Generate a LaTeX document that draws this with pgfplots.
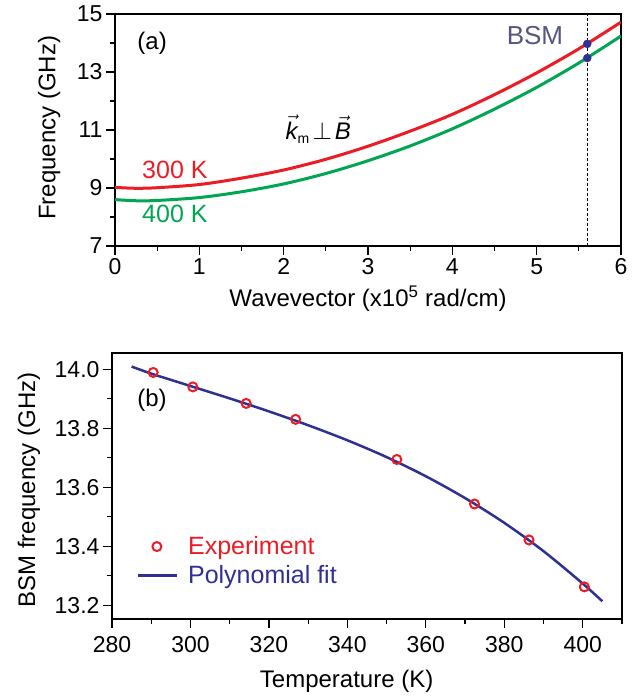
\documentclass[border=0pt]{standalone}
\usepackage{fontspec}
\setmainfont{Liberation Sans}
\usepackage{pgfplots}
\pgfplotsset{compat=1.18}
\definecolor{cRed}{HTML}{ED1C24}
\definecolor{cGreen}{HTML}{00A651}
\definecolor{cNavy}{HTML}{2E3192}
\definecolor{cBSM}{HTML}{55557F}

\pgfplotsset{
  panel/.style={
    scale only axis,
    axis line style={line width=1.5pt},
    tick style={line width=1.2pt, black},
    tick align=outside,
    xtick pos=bottom, ytick pos=left,
    major tick length=9pt, minor tick length=5pt,
    tick label style={font=\fontsize{23}{27}\selectfont},
    label style={font=\fontsize{24}{28}\selectfont},
    /pgf/number format/assume math mode=true,
  },
  legmark/.style={legend image code/.code={\draw[##1, draw=none, mark repeat=2, mark phase=2]
    plot coordinates {(0pt,0pt) (19pt,0pt) (38pt,0pt)};}},
  legline/.style={legend image code/.code={\fill[cNavy] (0pt,-1.3pt) rectangle (38pt,1.3pt);}},
}

\begin{document}
\begin{tikzpicture}
\useasboundingbox (-115pt,-452pt) rectangle (526pt,246pt);

% (a) dispersion
\begin{axis}[panel,
  at={(0pt,0pt)}, anchor=south west,
  width=506pt, height=232pt,
  xmin=0, xmax=6, ymin=7, ymax=15,
  xtick={0,1,2,3,4,5,6}, minor xtick={0.5,1.5,2.5,3.5,4.5,5.5},
  ytick={7,9,11,13,15}, minor ytick={8,10,12,14},
  xlabel={Wavevector (x10\textsuperscript{5} rad/cm)},
  ylabel={Frequency (GHz)},
  xlabel style={at={(axis description cs:0.5,-0.228)}, anchor=center},
  ylabel style={at={(axis description cs:-0.13,0.51)}, anchor=center},
]
\addplot[black, line width=1pt, densely dashed] coordinates {(5.6,7) (5.6,15)};
\addplot[cRed, line width=3pt, smooth] coordinates {
  (0,9.02) (0.25,8.99) (0.5,9.01) (1,9.12) (1.5,9.34) (2,9.62) (2.5,9.99)
  (3,10.44) (3.5,10.96) (4,11.54) (4.5,12.22) (5,12.97) (5.5,13.80) (6,14.72)};
\addplot[cGreen, line width=3pt, smooth] coordinates {
  (0,8.60) (0.25,8.56) (0.5,8.57) (1,8.67) (1.5,8.87) (2,9.14) (2.5,9.50)
  (3,9.94) (3.5,10.45) (4,11.04) (4.5,11.72) (5,12.47) (5.5,13.31) (6,14.24)};
\addplot[only marks, mark=*, mark size=4pt, cNavy] coordinates {(5.6,13.97) (5.6,13.48)};
\node[font=\fontsize{24}{28}\selectfont] at (axis cs:0.44,14.0) {(a)};
\node[font=\fontsize{26}{30}\selectfont, text=cBSM] at (axis cs:4.98,14.24) {BSM};
\node[font=\fontsize{25}{30}\selectfont, text=cRed] at (axis cs:0.71,9.62) {300 K};
\node[font=\fontsize{25}{30}\selectfont, text=cGreen] at (axis cs:0.71,8.09) {400 K};
\node[font=\fontsize{24}{28}\selectfont] at (axis cs:2.41,11.03)
  {$\vec{\mbox{\itshape k}}_{\mbox{\fontsize{14}{16}\selectfont m}}\!\perp\!\vec{\mbox{\itshape B}}$};
\end{axis}

% (b) BSM frequency vs temperature
\begin{axis}[panel,
  at={(-3pt,-107pt)}, anchor=north west,
  width=510pt, height=266pt,
  xmin=280, xmax=410, ymin=13.153, ymax=14.055,
  xtick={280,300,320,340,360,380,400}, minor xtick={290,310,330,350,370,390,410},
  ytick={13.2,13.4,13.6,13.8,14.0}, minor ytick={13.3,13.5,13.7,13.9},
  yticklabel style={/pgf/number format/.cd, fixed, fixed zerofill, precision=1},
  xticklabel style={yshift=-5pt},
  xlabel={Temperature (K)},
  ylabel={BSM frequency (GHz)},
  xlabel style={at={(axis description cs:0.46,-0.233)}, anchor=center},
  ylabel style={at={(axis description cs:-0.163,0.485)}, anchor=center},
  legend style={at={(0.05,0.325)}, anchor=north west, draw=none, fill=none,
    font=\fontsize{25}{30}\selectfont, row sep=5pt, column sep=10pt,
    cells={anchor=west}, inner xsep=0pt},
]
\addlegendimage{cRed, line width=2pt, mark=o, mark size=4.5pt,
  mark options={draw=cRed, fill=white, solid}, legmark}
\addlegendentry{\textcolor{cRed}{Experiment}}
\addlegendimage{cNavy, legline}
\addlegendentry{\textcolor{cNavy}{Polynomial fit}}
\addplot[cNavy, line width=2.5pt, smooth, forget plot] coordinates {
  (285,14.009) (290,13.985) (295,13.964) (300,13.943) (310,13.901) (320,13.857)
  (330,13.810) (340,13.759) (350,13.702) (360,13.637) (370,13.563) (380,13.479)
  (390,13.383) (400,13.273) (405,13.213)};
\addplot[only marks, mark=o, mark size=4.5pt, cRed, line width=2pt,
  mark options={fill=white}, forget plot] coordinates {
  (290.5,13.989) (300.6,13.940) (314.2,13.884) (326.8,13.830)
  (352.6,13.694) (372.4,13.543) (386.3,13.421) (400.4,13.262)};
\node[font=\fontsize{24}{28}\selectfont] at (axis cs:290.2,13.895) {(b)};
\end{axis}
\end{tikzpicture}
\end{document}
